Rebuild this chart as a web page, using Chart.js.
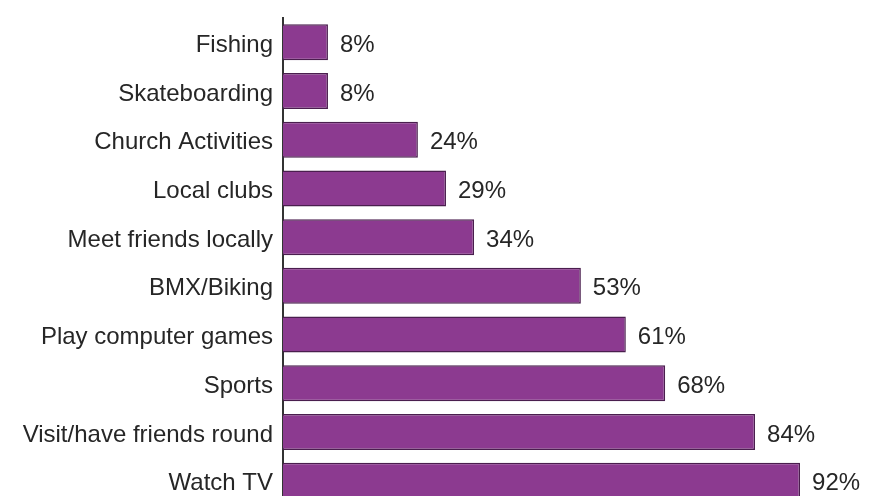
<!DOCTYPE html>
<html>
<head>
<meta charset="utf-8">
<script src="https://cdn.jsdelivr.net/npm/chart.js@4.4.0/dist/chart.umd.min.js"></script>
<style>
  html, body { margin: 0; padding: 0; background: #fff; overflow: hidden; }
  #c { position: absolute; left: 0; top: 0; }
</style>
</head>
<body>
<canvas id="c" width="872" height="505"></canvas>
<script>
const categories = ["Fishing", "Skateboarding", "Church Activities", "Local clubs", "Meet friends locally", "BMX/Biking", "Play computer games", "Sports", "Visit/have friends round", "Watch TV"];
const values = [8, 8, 24, 29, 34, 53, 61, 68, 84, 92];
const valueLabels = ["8%", "8%", "24%", "29%", "34%", "53%", "61%", "68%", "84%", "92%"];

const FONT = '"Liberation Sans", Arial, sans-serif';

const labelPlugin = {
  id: 'valueLabels',
  afterDatasetsDraw(chart) {
    const ctx = chart.ctx;
    const meta = chart.getDatasetMeta(0);
    ctx.save();
    ctx.font = '24px ' + FONT;
    ctx.fillStyle = '#262626';
    ctx.textAlign = 'left';
    ctx.textBaseline = 'middle';
    meta.data.forEach((bar, i) => {
      ctx.fillText(valueLabels[i], bar.x + 12, bar.y + 3);
    });
    ctx.restore();
  }
};

new Chart(document.getElementById('c'), {
  type: 'bar',
  data: {
    labels: categories,
    datasets: [{
      data: values,
      backgroundColor: '#8c3a90',
      borderColor: '#4a1e4e',
      borderWidth: 1.5,
      borderSkipped: 'start',
      barPercentage: 0.74,
      categoryPercentage: 1.0
    }]
  },
  plugins: [labelPlugin],
  options: {
    indexAxis: 'y',
    responsive: false,
    animation: false,
    layout: { padding: { top: 18, right: 27, left: 0, bottom: 0 } },
    plugins: { legend: { display: false }, tooltip: { enabled: false } },
    scales: {
      x: { display: false, min: 0, max: 100 },
      y: {
        grid: { display: false, drawTicks: false },
        border: { display: true, color: '#333', width: 2 },
        ticks: {
          padding: 10,
          labelOffset: 3,
          color: '#262626',
          font: { family: FONT, size: 24 }
        },
        afterFit(scale) {
          scale.width = 283;
          scale.paddingTop = 0;
          scale.paddingBottom = 0;
        }
      }
    }
  }
});
</script>
</body>
</html>
